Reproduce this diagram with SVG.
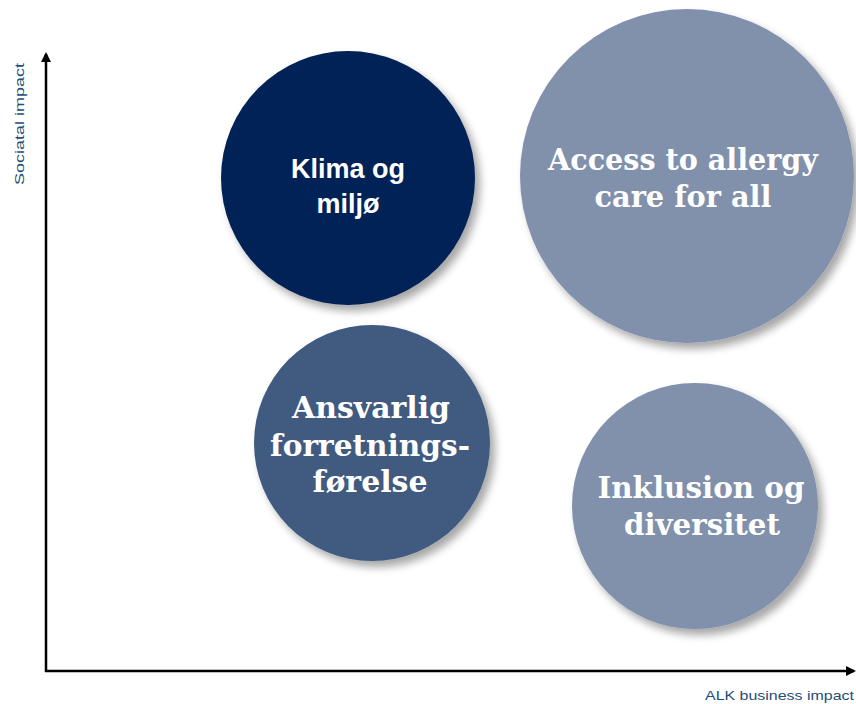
<svg xmlns="http://www.w3.org/2000/svg" width="856" height="704" viewBox="0 0 856 704">
<defs>
<filter id="sh" x="-20%" y="-20%" width="150%" height="150%">
<feGaussianBlur in="SourceAlpha" stdDeviation="4"/>
<feOffset dx="5" dy="6" result="b"/>
<feComponentTransfer><feFuncA type="linear" slope="0.35"/></feComponentTransfer>
<feMerge><feMergeNode/><feMergeNode in="SourceGraphic"/></feMerge>
</filter>
<marker id="ah" markerWidth="10" markerHeight="10" refX="8" refY="5" orient="auto" markerUnits="userSpaceOnUse" viewBox="0 0 10 10">
<path d="M0,0 L10,5 L0,10 z" fill="#000"/>
</marker>
<style>
.sans{font-family:"Liberation Sans",Arial,sans-serif;font-weight:bold;fill:#fff;text-anchor:middle}
.serif{font-family:"DejaVu Serif","Liberation Serif",serif;font-weight:bold;fill:#fff;text-anchor:middle;font-size:29px}
.ax{font-family:"Liberation Sans",Arial,sans-serif;fill:#1F4E79;font-size:13.5px}
</style>
</defs>
<rect width="856" height="704" fill="#fff"/>
<g id="connectors">
<line x1="46" y1="672" x2="46" y2="54" stroke="#000" stroke-width="2.5" marker-end="url(#ah)"/>
<line x1="45" y1="671" x2="854" y2="671" stroke="#000" stroke-width="2.5" marker-end="url(#ah)"/>
</g>
<text class="ax" transform="translate(24,124) rotate(-90)" text-anchor="middle" textLength="122" lengthAdjust="spacingAndGlyphs">Sociatal impact</text>
<text class="ax" x="854" y="700" text-anchor="end" textLength="149" lengthAdjust="spacingAndGlyphs">ALK business impact</text>
<g id="klima">
<circle cx="348" cy="178" r="127" fill="#022356" filter="url(#sh)"/>
<text class="sans" font-size="27" x="348" y="178">Klima og</text>
<text class="sans" font-size="27" x="348" y="213">miljø</text>
</g>
<g id="access">
<circle cx="687" cy="176" r="167" fill="#8191AB" filter="url(#sh)"/>
<text class="serif" x="683" y="170" textLength="270" lengthAdjust="spacingAndGlyphs">Access to allergy</text>
<text class="serif" x="683" y="207" textLength="177" lengthAdjust="spacingAndGlyphs">care for all</text>
</g>
<g id="ansvarlig">
<circle cx="372" cy="443" r="118" fill="#3F5A80" filter="url(#sh)"/>
<text class="serif" x="371" y="418" textLength="158" lengthAdjust="spacingAndGlyphs">Ansvarlig</text>
<text class="serif" x="370" y="456" textLength="200" lengthAdjust="spacingAndGlyphs">forretnings-</text>
<text class="serif" x="370" y="492" textLength="115" lengthAdjust="spacingAndGlyphs">førelse</text>
</g>
<g id="inklusion">
<circle cx="695" cy="506" r="123" fill="#8191AB" filter="url(#sh)"/>
<text class="serif" x="701" y="498" textLength="207" lengthAdjust="spacingAndGlyphs">Inklusion og</text>
<text class="serif" x="702" y="535" textLength="156" lengthAdjust="spacingAndGlyphs">diversitet</text>
</g>
</svg>
